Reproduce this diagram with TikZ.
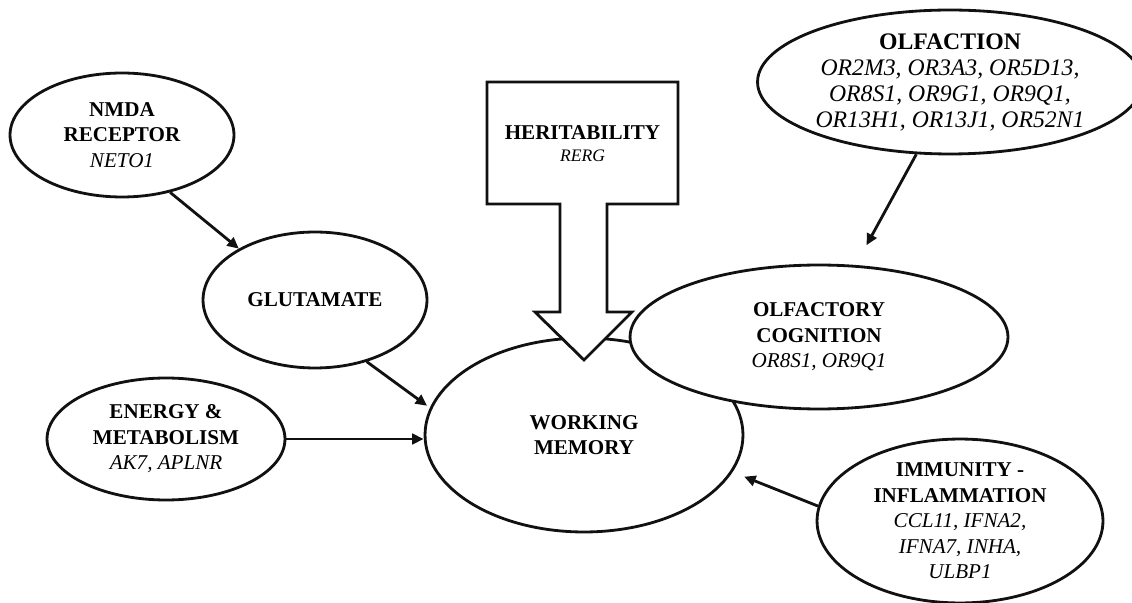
\documentclass[tikz,border=0pt]{standalone}
\usepackage{fontspec}
\setmainfont{Liberation Serif}
\usetikzlibrary{arrows.meta,positioning,shapes.geometric}
\definecolor{ink}{HTML}{111111}
\tikzset{
  topic/.style={ellipse,draw=ink,fill=white,line width=1.6pt,
                inner sep=0pt,align=center,
                font=\fontsize{12}{14.5}\selectfont},
  heritbox/.style={draw=ink,fill=white,line width=1.6pt,line join=miter},
  linkarr/.style={-{Triangle[length=6.5pt,width=6pt]},line width=1.6pt,draw=ink}
}
\newcommand{\hd}[1]{\textbf{#1}}
\newcommand{\gn}[1]{\textit{#1}}

\begin{document}
\begin{tikzpicture}[x=0.02cm,y=0.02cm]
  \useasboundingbox (0,0) rectangle (1132,602);
  % central trait
  \node[topic,minimum width=6.36cm,minimum height=3.88cm] (wm) at (584,167)
    {\hd{WORKING}\\ \hd{MEMORY}};
  % heritability block arrow
  \draw[heritbox] (487,520) -- (678,520) -- (678,398) -- (607,398) -- (607,290)
    -- (632,290) -- (584,242) -- (535,290) -- (560,290) -- (560,398)
    -- (487,398) -- cycle;
  \node[align=center,font=\fontsize{12}{14.5}\selectfont] (herit) at (582.5,458)
    {\hd{HERITABILITY}\\[-2pt] {\fontsize{10}{12}\selectfont\gn{RERG}}};
  % left side
  \node[topic,minimum width=4.48cm,minimum height=2.48cm] (nmda) at (122,467)
    {\hd{NMDA}\\ \hd{RECEPTOR}\\ \gn{NETO1}};
  \node[topic,minimum width=4.48cm,minimum height=2.72cm] (glut) at (315,302)
    {\hd{GLUTAMATE}};
  \node[topic,minimum width=4.76cm,minimum height=2.44cm] (energy) at (166,163)
    {\hd{ENERGY \&}\\ \hd{METABOLISM}\\ \gn{AK7, APLNR}};
  % right side
  \node[topic,minimum width=7.56cm,minimum height=2.88cm] (olfcog) at (819,265)
    {\hd{OLFACTORY}\\ \hd{COGNITION}\\ \gn{OR8S1, OR9Q1}};
  \node[topic,minimum width=7.7cm,minimum height=2.88cm,
        font=\fontsize{13.5}{14.8}\selectfont] (olfaction) at (950,520)
    {\hd{OLFACTION}\\ \gn{OR2M3, OR3A3, OR5D13,}\\ \gn{OR8S1, OR9G1, OR9Q1,}\\
     \gn{OR13H1, OR13J1, OR52N1}};
  \node[topic,minimum width=5.72cm,minimum height=3.16cm] (immune) at (960,81)
    {\hd{IMMUNITY -}\\ \hd{INFLAMMATION}\\ \gn{CCL11, IFNA2,}\\ \gn{IFNA7, INHA,}\\
     \gn{ULBP1}};
  % links
  \draw[linkarr] (nmda.-50) -- (glut.146);
  \draw[linkarr,shorten >=2pt] (glut.-50) -- (wm.170);
  \draw[linkarr] (energy.east) -- (energy.east -| wm.west);
  \draw[linkarr,shorten >=0.45cm] (olfaction.-115) -- (olfcog.63);
  \draw[linkarr,shorten >=0.25cm] (immune.174) -- (wm.-14);
\end{tikzpicture}
\end{document}
